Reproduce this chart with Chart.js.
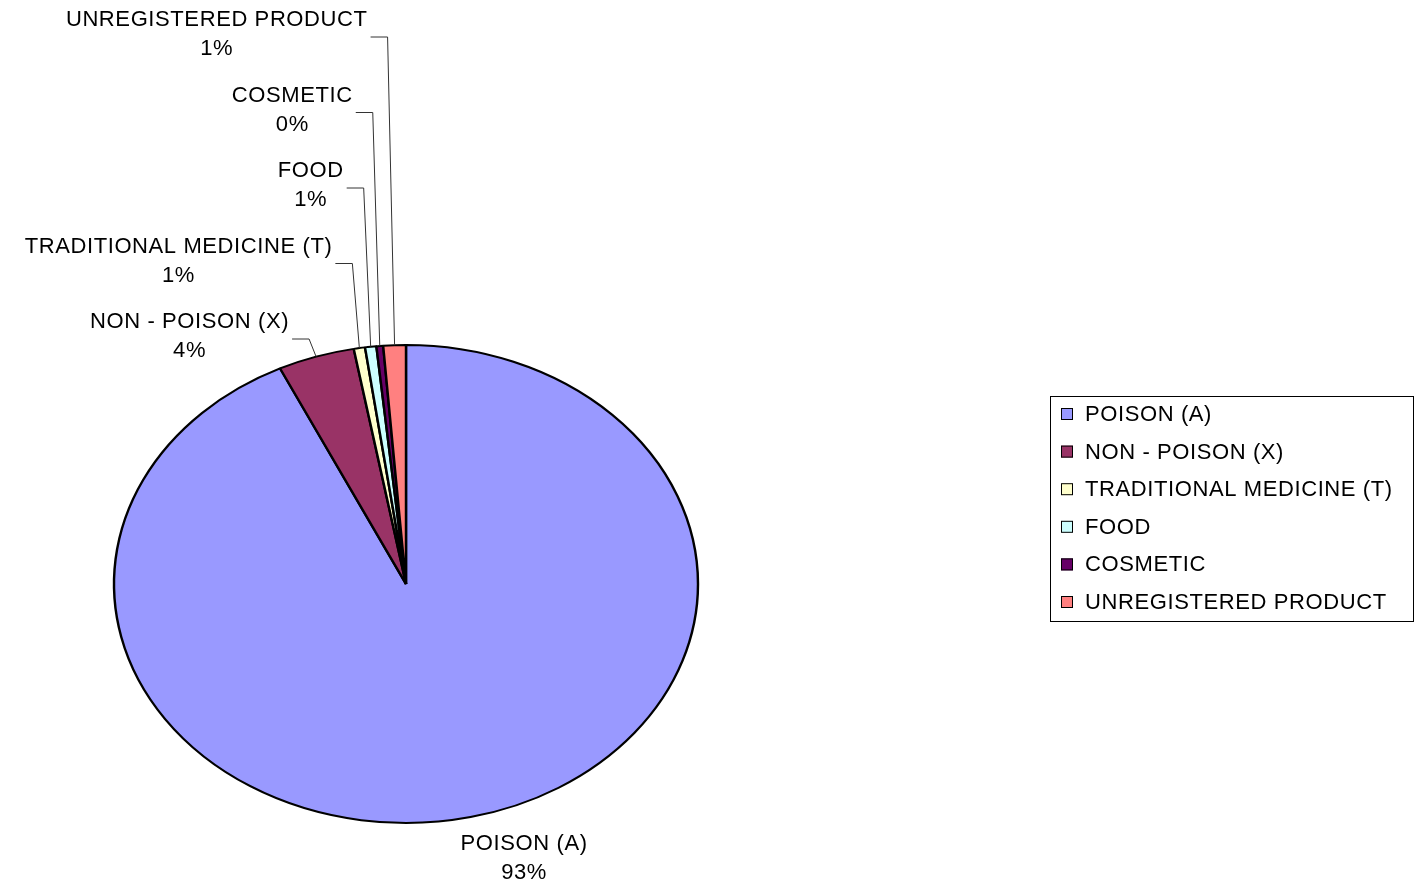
<!DOCTYPE html>
<html lang="en">
<head>
  <meta charset="UTF-8">
  <title>Pie</title>
  <script src="https://cdn.jsdelivr.net/npm/chart.js"></script>
  <style>
    body { margin: 0; background: #fff; }
    canvas { display: block; }
  </style>
</head>
<body>
  <canvas id="pieCanvas" width="1418" height="888"></canvas>
  <script>
    const categories = ['POISON (A)', 'NON - POISON (X)', 'TRADITIONAL MEDICINE (T)', 'FOOD', 'COSMETIC', 'UNREGISTERED PRODUCT'];
    const counts = [746, 34, 5, 5, 3, 10];
    const sliceColors = ['#9999FF', '#993366', '#FFFFCC', '#CCFFFF', '#660066', '#FF8080'];

    const FONT = '22px "Liberation Sans", Arial, sans-serif';
    const SPACING = '0.6px';
    const stretchX = 292 / 239; // pie is drawn as an ellipse

    function setFont(ctx) {
      ctx.font = FONT;
      ctx.letterSpacing = SPACING;
      ctx.fillStyle = '#000';
      ctx.textBaseline = 'middle';
    }

    // squash the circle into an ellipse
    const stretchPlugin = {
      id: 'stretch',
      beforeDatasetsDraw(chart) {
        const arc = chart.getDatasetMeta(0).data[0];
        const ctx = chart.ctx;
        ctx.save();
        ctx.translate(arc.x, arc.y);
        ctx.scale(stretchX, 1);
        ctx.translate(-arc.x, -arc.y);
      },
      afterDatasetsDraw(chart) {
        chart.ctx.restore();
      }
    };

    // outside labels with leader lines
    const labelPlugin = {
      id: 'sliceLabels',
      afterDraw(chart) {
        const ctx = chart.ctx;
        const arcs = chart.getDatasetMeta(0).data;
        const total = counts.reduce((a, b) => a + b, 0);
        ctx.save();
        setFont(ctx);
        arcs.forEach((arc, i) => {
          const mid = (arc.startAngle + arc.endAngle) / 2;
          const r = arc.outerRadius;
          const ax = arc.x + stretchX * r * Math.cos(mid);
          const ay = arc.y + r * Math.sin(mid);
          const name = categories[i];
          const pct = Math.round(counts[i] / total * 100) + '%';
          const w = Math.max(ctx.measureText(name).width, ctx.measureText(pct).width);
          let cx, y1;
          if (Math.sin(mid) > 0) {
            // below the pie, no leader
            cx = ax - 10 + w / 2;
            y1 = ay + 27;
          } else {
            y1 = arc.y - r - 23 - (i - 1) * 75.5;
            const elbowX = ax - 7;
            const elbowY = y1 + 17;
            const right = elbowX - 20;
            cx = right - w / 2;
            ctx.beginPath();
            ctx.strokeStyle = '#333';
            ctx.lineWidth = 1;
            ctx.moveTo(right + 3, elbowY);
            ctx.lineTo(elbowX, elbowY);
            ctx.lineTo(ax, ay);
            ctx.stroke();
          }
          ctx.textAlign = 'center';
          ctx.fillText(name, cx, y1);
          ctx.fillText(pct, cx, y1 + 29);
        });
        ctx.restore();
      }
    };

    // boxed legend on the right
    const legendPlugin = {
      id: 'boxLegend',
      afterDraw(chart) {
        const ctx = chart.ctx;
        const left = 1050, top = 396, width = 363, height = 225;
        const rowH = 37.6;
        ctx.save();
        ctx.strokeStyle = '#000';
        ctx.lineWidth = 1;
        ctx.strokeRect(left + 0.5, top + 0.5, width, height);
        setFont(ctx);
        ctx.textAlign = 'left';
        chart.data.labels.forEach((lab, i) => {
          const y = top + 18 + i * rowH;
          ctx.fillStyle = sliceColors[i];
          ctx.fillRect(left + 11, y - 6, 12, 12);
          ctx.strokeRect(left + 11.5, y - 5.5, 11, 11);
          ctx.fillStyle = '#000';
          ctx.fillText(lab, left + 35, y + 1);
        });
        ctx.restore();
      }
    };

    const ctx = document.getElementById('pieCanvas').getContext('2d');
    const chart = new Chart(ctx, {
      type: 'pie',
      data: {
        labels: categories,
        datasets: [{
          data: counts,
          backgroundColor: sliceColors,
          borderColor: '#000',
          borderWidth: 2
        }]
      },
      options: {
        responsive: false,
        animation: false,
        layout: {
          padding: { left: 166, right: 772, top: 344, bottom: 64 }
        },
        plugins: {
          legend: { display: false },
          tooltip: { enabled: false }
        }
      },
      plugins: [stretchPlugin, labelPlugin, legendPlugin]
    });
  </script>
</body>
</html>
